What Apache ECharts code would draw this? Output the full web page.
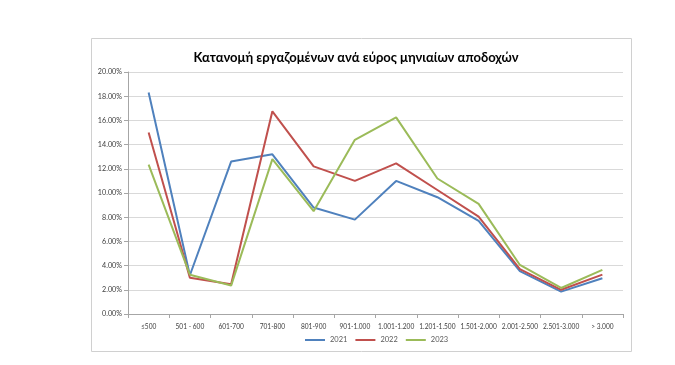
<!DOCTYPE html>
<html><head><meta charset="utf-8">
<script src="https://cdn.jsdelivr.net/npm/echarts@6/dist/echarts.min.js"></script>
<style>html,body{margin:0;padding:0;background:#fff}#c{width:675px;height:365px}</style>
</head><body><div id="c"></div>
<script>
const categories = ['≤500','501 - 600','601-700','701-800','801-900','901-1.000','1.001-1.200','1.201-1.500','1.501-2.000','2.001-2.500','2.501-3.000','> 3.000'];
const s2021 = [18.3, 3.2, 12.6, 13.2, 8.8, 7.8, 11.0, 9.65, 7.7, 3.55, 1.85, 2.95];
const s2022 = [15.0, 3.0, 2.45, 16.75, 12.2, 11.0, 12.45, 10.25, 8.05, 3.7, 2.0, 3.25];
const s2023 = [12.35, 3.25, 2.35, 12.8, 8.5, 14.4, 16.25, 11.2, 9.1, 4.05, 2.15, 3.65];
const seriesNames = ['2021','2022','2023'];
const colors = ['#4F81BD','#C0504D','#9BBB59'];
const font = 'Lato, "Open Sans", sans-serif';
const chart = echarts.init(document.getElementById('c'));
const data = [s2021, s2022, s2023];
chart.setOption({
  animation: false,
  backgroundColor: '#fff',
  graphic: [{type:'rect', shape:{x:91.5,y:38.5,width:540,height:313}, style:{fill:'none', stroke:'#d0d0d0', lineWidth:1}, z:-1}],
  title: {text:'Κατανομή εργαζομένων ανά εύρος μηνιαίων αποδοχών', left:351, textAlign:'center', top:46,
    textStyle:{fontFamily:font, fontSize:13, fontWeight:'bold', color:'#000'}},
  legend: {data: seriesNames, left: 305, top: 336, itemWidth:20, itemHeight:2, itemGap:8,
    icon:'rect', textStyle:{fontFamily:font, fontSize:7.5, color:'#595959'}, padding:0},
  grid: {left:128, right:52, top:72, bottom:51},
  xAxis: {type:'category', data: categories, boundaryGap:true,
    axisLine:{lineStyle:{color:'#a6a6a6'}}, axisTick:{show:true, length:4, lineStyle:{color:'#a6a6a6'}},
    axisLabel:{fontFamily:font, fontSize:6.6, color:'#404040', margin:9, interval:0}},
  yAxis: {type:'value', min:0, max:20, interval:2,
    axisLine:{show:true, lineStyle:{color:'#a6a6a6'}}, axisTick:{show:true, length:4, lineStyle:{color:'#a6a6a6'}},
    splitLine:{lineStyle:{color:'#d9d9d9'}},
    axisLabel:{fontFamily:font, fontSize:7.2, color:'#404040', margin:6, formatter: v => v.toFixed(2)+'%'}},
  series: seriesNames.map((n,i)=>({name:n, type:'line', data:data[i], symbol:'none',
    lineStyle:{color:colors[i], width:2}, itemStyle:{color:colors[i]}}))
});
</script></body></html>
